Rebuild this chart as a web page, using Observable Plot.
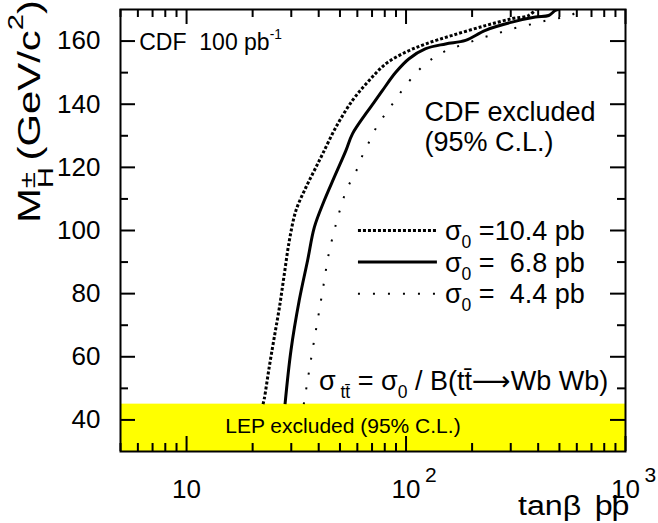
<!DOCTYPE html>
<html><head><meta charset="utf-8">
<script src="https://cdn.jsdelivr.net/npm/d3@7"></script>
<script src="https://cdn.jsdelivr.net/npm/@observablehq/plot@0.6"></script>
<style>
html,body{margin:0;padding:0;background:#fff;}
svg text{font-family:"Liberation Sans",Arial,Helvetica,sans-serif;}
</style></head><body><div id="chart"></div>
<script>
// ---- data ----
const tanb_104 = [22.3, 22.6, 23.8, 25.1, 26.5, 27.9, 29.4, 31.5, 35.0, 38.2, 41.7, 47.9, 57.0, 67.9, 80.9, 99.7, 122.9, 162.3, 230, 304, 362, 390];
const mh_104   = [45, 46.7, 56.7, 66.2, 75.7, 86.3, 96.8, 106.3, 113.7, 119, 124.3, 132.7, 141.2, 147.5, 152.8, 156.5, 159.1, 161.8, 164.9, 167.1, 168.1, 170];
const tanb_68  = [28.1, 29.9, 32.6, 35.6, 38.2, 42.4, 47.1, 53.2, 57.0, 65.6, 71.5, 78.0, 89.8, 103.2, 122.9, 151.4, 186.7, 230, 304, 388.7, 446.7, 479, 496];
const mh_68    = [45, 62, 77.8, 90.5, 101, 109.5, 116.9, 125.3, 130.6, 137, 140.6, 144.3, 150.1, 154.4, 157.6, 159.1, 160.2, 163.4, 166, 167.6, 168.1, 169.7, 170];
const tanb_44  = [34.2, 35.0, 37.8, 39.9, 42.1, 44.4, 47.9, 50.1, 52.6, 56.1, 60.5, 63.9, 69.1, 74.1, 81.7, 89.1, 97.9, 108.7, 121.6, 138.7, 159.7, 186.7, 218.5, 255.9, 297, 346.7, 402, 470.9, 560.8, 611];
const mh_44    = [45, 49.3, 63.6, 73.1, 82.8, 92.4, 101.9, 106.7, 111.4, 115.8, 120.1, 124.5, 129.0, 133.3, 137.5, 141.2, 145.2, 149.1, 152.6, 155.4, 157.6, 159.1, 160.9, 162.2, 163.7, 164.8, 165.9, 167, 168, 170];

const xDomain = [5, 1000];
const yDomain = [30, 170];
const xMajorTicks = [10, 100, 1000];
const xMinorTicks = [5,6,7,8,9,20,30,40,50,60,70,80,90,200,300,400,500,600,700,800,900];
const yMajorTicks = [40, 60, 80, 100, 120, 140, 160];
const yMinorTicks = [50, 70, 90, 110, 130, 150];
const xTickLabels = ["10", "10", "10"];
const xTickExponents = ["", "2", "3"];
const lepBand = [30, 45];
const sigma0Labels = ["=10.4 pb", "=\u00a0\u00a06.8 pb", "=\u00a0\u00a04.4 pb"];
const legendY = [100, 90, 80];
const legendX = [60.7, 139];

// ---- layout ----
const W = 658, H = 523, mL = 120, mR = 33, mT = 9, mB = 72;
const innerW = W - mL - mR, innerH = H - mT - mB;
const FONT = '"Liberation Sans", Arial, Helvetica, sans-serif';
const majorLen = 15, minorLen = 8;

const rows = (xs, ys) => xs.map((x, i) => ({x, y: ys[i]}));
const styles = [
  {data: rows(tanb_104, mh_104), dash: "3,2", width: 3},
  {data: rows(tanb_68, mh_68), dash: null, width: 3},
  {data: rows(tanb_44, mh_44), dash: "2,13", width: 2}
];

const marks = [];
marks.push(Plot.rect([lepBand], {x1: xDomain[0], x2: xDomain[1], y1: d => d[0], y2: d => d[1], fill: "#ffff00"}));
for (const s of styles) {
  marks.push(Plot.line(s.data, {x: "x", y: "y", stroke: "black", strokeWidth: s.width, strokeDasharray: s.dash,
    strokeLinecap: "butt", strokeLinejoin: "miter", curve: "catmull-rom", clip: true}));
}
styles.forEach((s, i) => {
  marks.push(Plot.ruleY([legendY[i]], {y: d => d, x1: legendX[0], x2: legendX[1], stroke: "black", strokeWidth: s.width, strokeDasharray: s.dash, strokeLinecap: "butt"}));
});
marks.push(Plot.tickX(xMajorTicks, {x: d => d, insetTop: innerH - majorLen, strokeWidth: 2}));
marks.push(Plot.tickX(xMajorTicks, {x: d => d, insetBottom: innerH - majorLen, strokeWidth: 2}));
marks.push(Plot.tickX(xMinorTicks, {x: d => d, insetTop: innerH - minorLen, strokeWidth: 2}));
marks.push(Plot.tickX(xMinorTicks, {x: d => d, insetBottom: innerH - minorLen, strokeWidth: 2}));
marks.push(Plot.tickY(yMajorTicks, {y: d => d, insetRight: innerW - majorLen, strokeWidth: 2}));
marks.push(Plot.tickY(yMajorTicks, {y: d => d, insetLeft: innerW - majorLen, strokeWidth: 2}));
marks.push(Plot.tickY(yMinorTicks, {y: d => d, insetRight: innerW - minorLen, strokeWidth: 2}));
marks.push(Plot.tickY(yMinorTicks, {y: d => d, insetLeft: innerW - minorLen, strokeWidth: 2}));
marks.push(Plot.text(yMajorTicks, {y: d => d, text: d => String(d), frameAnchor: "left", dx: -20, textAnchor: "end", fontSize: 26, fill: "black"}));
marks.push(Plot.text(xMajorTicks, {x: d => d, text: (d, i) => xTickLabels[i], frameAnchor: "bottom", dy: 46, lineAnchor: "bottom", fontSize: 26, fill: "black"}));
marks.push(Plot.text(xMajorTicks, {x: d => d, text: (d, i) => xTickExponents[i], frameAnchor: "bottom", dy: 30, dx: 19, textAnchor: "start", lineAnchor: "bottom", fontSize: 21, fill: "black"}));
marks.push(Plot.text(["LEP excluded (95% C.L.)"], {x: 15.0, y: 36.0, text: d => d, textAnchor: "start", lineAnchor: "bottom", fontSize: 21, fill: "black"}));
marks.push(Plot.text(["CDF excluded", "(95% C.L.)"], {x: 121.3, y: (d, i) => [134.8, 125.3][i], text: d => d, textAnchor: "start", lineAnchor: "bottom", fontSize: 27, fill: "black"}));
marks.push(Plot.frame({stroke: "black", strokeWidth: 2}));

const plot = Plot.plot({
  width: W, height: H,
  marginLeft: mL, marginRight: mR, marginTop: mT, marginBottom: mB,
  x: {type: "log", domain: xDomain, axis: null},
  y: {domain: yDomain, axis: null},
  style: {fontFamily: FONT, background: "white", overflow: "visible"},
  marks
});
document.getElementById("chart").appendChild(plot);

const sx = plot.scale("x").apply, sy = plot.scale("y").apply;
const svg = d3.select(plot);

function rich(x, y, parts, {size = 26, anchor = "start", rotate = 0, stretch = 1} = {}) {
  const t = svg.append("text")
    .attr("transform", `translate(${x},${y})` + (rotate ? ` rotate(${rotate})` : "") + (stretch !== 1 ? ` scale(${stretch},1)` : ""))
    .attr("font-size", size).attr("text-anchor", anchor)
    .attr("font-family", FONT).attr("fill", "black");
  for (const p of parts) {
    const s = t.append("tspan").text(p.t);
    if (p.s) s.attr("font-size", size * p.s);
    if (p.dy) s.attr("dy", p.dy);
    if (p.dx) s.attr("dx", p.dx);
    if (p.f) s.attr("font-family", p.f);
    if (p.ls) s.attr("letter-spacing", p.ls);
  }
  return t;
}

sigma0Labels.forEach((lab, i) => {
  rich(sx(legendX[1]) + 8, sy(legendY[i]) + 10, [
    {t: "σ"}, {t: "0", s: 0.65, dy: 8}, {t: "\u00a0" + lab, dy: -8}
  ], {size: 27});
});
rich(sx(40.3), sy(49.3), [
  {t: "σ"}, {t: "\u00a0tt\u0304", s: 0.65, dy: 8}, {t: " = σ", dy: -8}, {t: "0", s: 0.65, dy: 8},
  {t: " / B(tt\u0304", dy: -8}, {t: "\u27f6", f: '"DejaVu Sans"'}, {t: "Wb Wb)"}
], {size: 27});
rich(sx(6.12), sy(157.0), [
  {t: "CDF\u00a0\u00a0100 pb"}, {t: "-1", s: 0.6, dy: -11}
], {size: 23});
// y axis title (stretched along its length, as in the reference)
const ysz = 31;
rich(40, 0, [
  {t: "M"}, {t: "H", s: 0.7, dy: 13}, {t: "±", s: 0.7, dx: -0.722 * 0.7 * ysz, dy: -18},
  {t: "\u00a0(GeV/c", dy: 5}, {t: "2", s: 0.7, dy: -17}, {t: ")", dy: 17}
], {size: ysz, anchor: "end", rotate: -90, stretch: 1.35});
// x axis title
rich(518, 515, [{t: "tanβ "}, {t: "þþ", dx: 4, ls: -1}], {size: 28, stretch: 1.15});
</script></body></html>
